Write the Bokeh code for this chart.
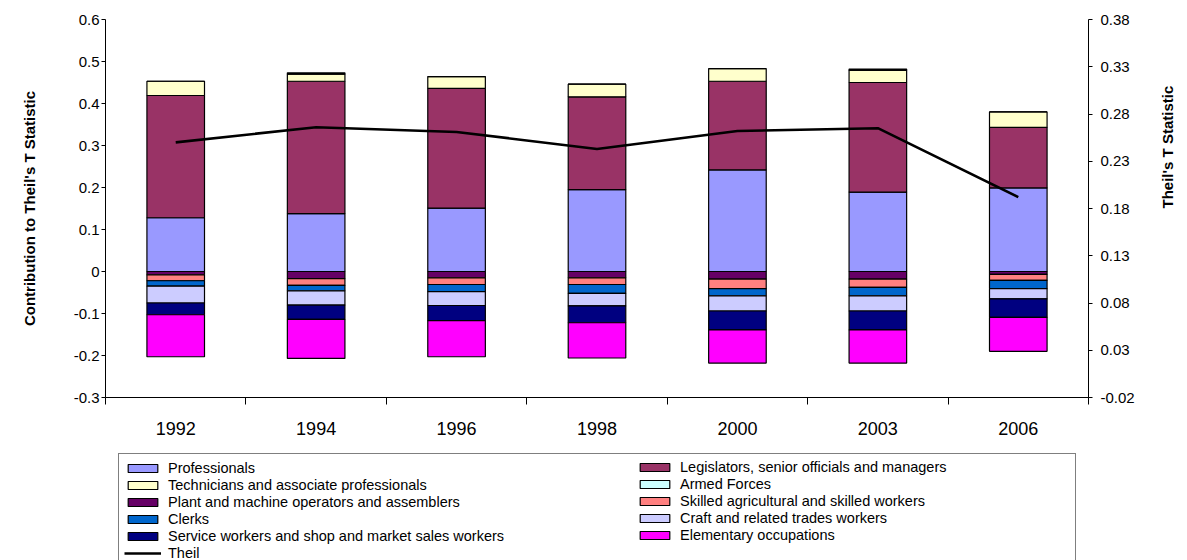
import math
from bokeh.plotting import figure
from bokeh.layouts import column
from bokeh.models import (Range1d, LinearAxis, FixedTicker, CustomJSTickFormatter,
                          Legend, LegendItem, ColumnDataSource)
from bokeh.embed import file_html
from bokeh.resources import INLINE

years = ["1992", "1994", "1996", "1998", "2000", "2003", "2006"]
professionals = [0.128, 0.138, 0.151, 0.195, 0.242, 0.189, 0.199]
legislators = [0.291, 0.315, 0.285, 0.221, 0.211, 0.261, 0.144]
technicians = [0.034, 0.017, 0.028, 0.030, 0.030, 0.029, 0.037]
armed_forces = [0.0, 0.003, 0.0, 0.0, 0.0, 0.003, 0.0]
plant = [-0.008, -0.017, -0.015, -0.015, -0.018, -0.018, -0.007]
skilled_agri = [-0.014, -0.016, -0.016, -0.016, -0.023, -0.020, -0.014]
clerks = [-0.013, -0.013, -0.017, -0.021, -0.017, -0.020, -0.020]
craft = [-0.040, -0.034, -0.033, -0.030, -0.036, -0.036, -0.024]
service = [-0.028, -0.034, -0.036, -0.040, -0.045, -0.045, -0.044]
elementary = [-0.100, -0.093, -0.086, -0.084, -0.079, -0.079, -0.081]
theil = [0.250, 0.266, 0.261, 0.243, 0.262, 0.265, 0.192]

left_ticks = [-0.3, -0.2, -0.1, 0.0, 0.1, 0.2, 0.3, 0.4, 0.5, 0.6]
right_ticks = [-0.02, 0.03, 0.08, 0.13, 0.18, 0.23, 0.28, 0.33, 0.38]

labels = ["Professionals", "Legislators, senior officials and managers",
          "Technicians and associate professionals", "Armed Forces",
          "Plant and machine operators and assemblers",
          "Skilled agricultural and skilled workers", "Clerks",
          "Craft and related trades workers",
          "Service workers and shop and market sales workers",
          "Elementary occupations", "Theil"]

FONT = "Liberation Sans"

xs = [i + 0.5 for i in range(len(years))]
source = ColumnDataSource(dict(
    x=xs, professionals=professionals, legislators=legislators,
    technicians=technicians, armed_forces=armed_forces, plant=plant,
    skilled_agri=skilled_agri, clerks=clerks, craft=craft, service=service,
    elementary=elementary, theil=theil))

p = figure(width=1187, height=440, x_range=Range1d(0, len(years)),
           y_range=Range1d(-0.3, 0.6), output_backend="svg",
           toolbar_location=None, x_axis_type=None, y_axis_type=None,
           min_border_left=105, min_border_right=99, min_border_top=19,
           min_border_bottom=43)
p.outline_line_color = None
p.xgrid.visible = False
p.ygrid.visible = False

pos_names = ["professionals", "legislators", "technicians", "armed_forces"]
pos_colors = ["#9999FF", "#993366", "#FFFFCC", "#CCFFFF"]
neg_names = ["plant", "skilled_agri", "clerks", "craft", "service", "elementary"]
neg_colors = ["#660066", "#FF8080", "#0066CC", "#CCCCFF", "#000080", "#FF00FF"]

p.vbar_stack(pos_names, x="x", width=0.41, fill_color=pos_colors,
             line_color="black", line_width=1.2, source=source)
p.vbar_stack(neg_names, x="x", width=0.41, fill_color=neg_colors,
             line_color="black", line_width=1.2, source=source)

p.extra_y_ranges = {"theil": Range1d(-0.02, 0.38)}
p.line("x", "theil", y_range_name="theil", line_color="black",
       line_width=2.6, source=source)

# Left axis
yl = LinearAxis(ticker=FixedTicker(ticks=left_ticks),
                formatter=CustomJSTickFormatter(code="return Math.abs(tick) < 1e-9 ? '0' : tick.toFixed(1);"),
                axis_label="Contribution to Theil's T Statistic")
yl.major_tick_out = 4
yl.major_tick_in = 0
yl.minor_tick_line_color = None
yl.major_label_standoff = 2
yl.axis_label_standoff = 33
yl.axis_label_text_font = FONT
yl.axis_label_text_font_style = "bold"
yl.axis_label_text_font_size = "15px"
yl.axis_label_text_color = "black"
yl.major_label_text_font = FONT
yl.major_label_text_font_size = "15px"
yl.major_label_text_color = "black"
yl.axis_line_color = "black"
yl.major_tick_line_color = "black"
p.add_layout(yl, "left")

# Right axis
yr = LinearAxis(y_range_name="theil", ticker=FixedTicker(ticks=right_ticks),
                formatter=CustomJSTickFormatter(code="return tick.toFixed(2);"),
                axis_label="Theil's T Statistic")
yr.major_tick_out = 4
yr.major_tick_in = 0
yr.minor_tick_line_color = None
yr.major_label_standoff = 8
yr.axis_label_standoff = 30
yr.axis_label_orientation = math.pi / 2
yr.axis_label_text_font = FONT
yr.axis_label_text_font_style = "bold"
yr.axis_label_text_font_size = "15px"
yr.axis_label_text_color = "black"
yr.major_label_text_font = FONT
yr.major_label_text_font_size = "15px"
yr.major_label_text_color = "black"
yr.axis_line_color = "black"
yr.major_tick_line_color = "black"
p.add_layout(yr, "right")

# Bottom axis: labels at centres, tick marks between categories
xb = LinearAxis(ticker=FixedTicker(ticks=xs, minor_ticks=list(range(len(years) + 1))),
                formatter=CustomJSTickFormatter(args=dict(labels=years),
                                                code="return labels[Math.floor(tick)];"))
xb.major_tick_out = 0
xb.major_tick_in = 0
xb.minor_tick_out = 7
xb.minor_tick_in = 0
xb.minor_tick_line_color = "black"
xb.major_label_standoff = 17
xb.major_label_text_font = FONT
xb.major_label_text_font_size = "18px"
xb.major_label_text_color = "black"
xb.axis_line_color = "black"
p.add_layout(xb, "below")

# Legend figure (legend glyphs mirror the series styles; data lies outside the view)
lf = figure(width=1187, height=120, x_range=Range1d(0, 1), y_range=Range1d(0, 1),
            output_backend="svg", toolbar_location=None,
            x_axis_type=None, y_axis_type=None,
            min_border_left=105, min_border_right=99, min_border_top=0,
            min_border_bottom=0)
lf.outline_line_color = None
lf.xgrid.visible = False
lf.ygrid.visible = False

offview = ColumnDataSource(dict(x=[-5.0, -4.0], top=[-5.0, -5.0], y=[-5.0, -5.0]))
all_colors = pos_colors + neg_colors
rends = []
for c in all_colors:
    rends.append(lf.vbar(x="x", top="top", bottom=-6.0, width=0.1, fill_color=c,
                         line_color="black", line_width=1.2, source=offview))
rends.append(lf.line(x="x", y="y", line_color="black", line_width=2.6, source=offview))

items = [LegendItem(label=l, renderers=[r]) for l, r in zip(labels, rends)]
col1 = items[0::2]
col2 = items[1::2]

common = dict(orientation="vertical", padding=5, spacing=0,
              glyph_width=37, glyph_height=10, label_height=17,
              label_standoff=7, label_text_font=FONT,
              label_text_font_size="14.5px", label_text_line_height=1.0,
              label_text_color="black")

legend_a = Legend(items=col1, location="top_left", margin=13, label_width=902,
                  border_line_color="black", border_line_width=1,
                  background_fill_color="white", **common)
legend_b = Legend(items=col2, location=(531, 17), margin=0, label_width=300,
                  border_line_color=None, background_fill_alpha=0.0, **common)
lf.add_layout(legend_a)
lf.add_layout(legend_b)

open("out.html", "w").write(file_html(column(p, lf, spacing=0), INLINE))
